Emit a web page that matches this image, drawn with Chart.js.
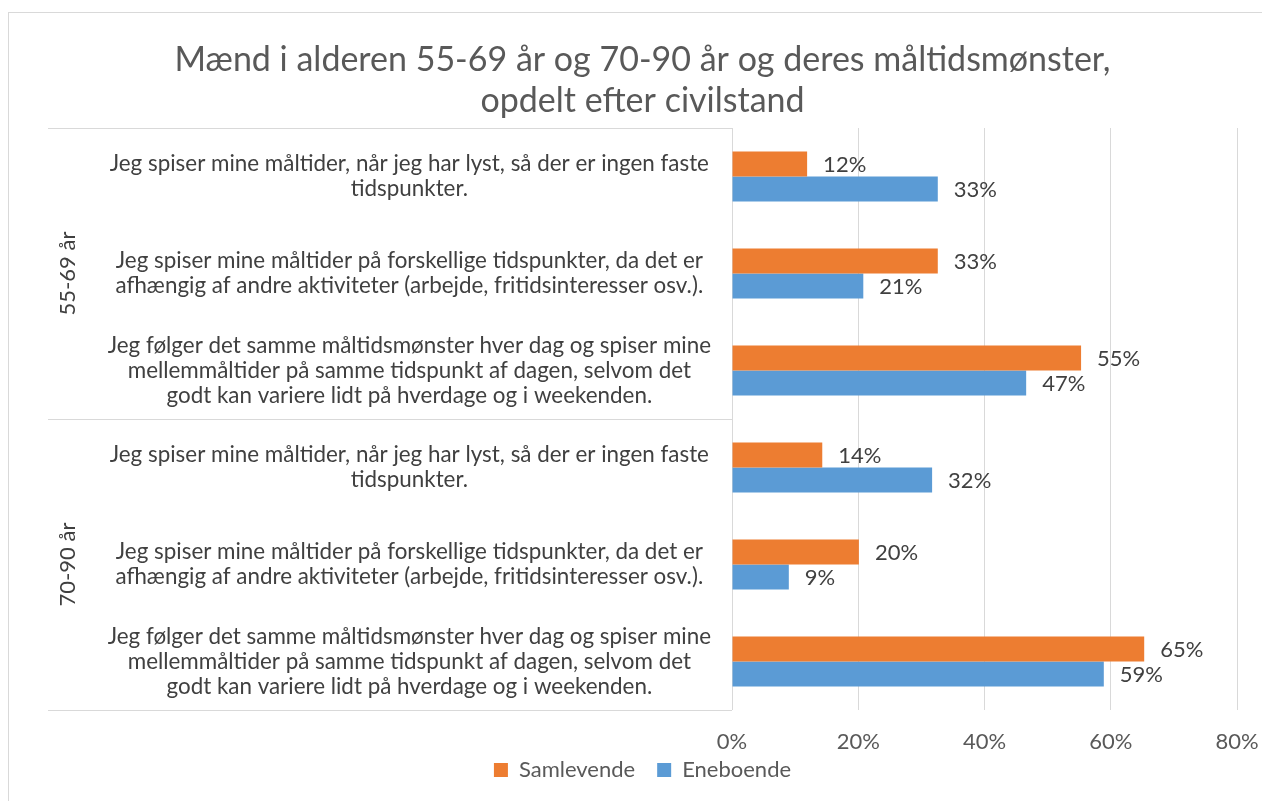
<!DOCTYPE html>
<html>
<head>
<meta charset="utf-8">
<script src="https://cdn.jsdelivr.net/npm/chart.js@4"></script>
<style>
  html, body { margin: 0; padding: 0; background: #fff; overflow: hidden; }
  #wrap { position: relative; width: 1262px; height: 801px; }
  #frame { position: absolute; left: 8px; top: 12px; width: 1300px; height: 850px; border: 1px solid #d9d9d9; box-sizing: border-box; }
  canvas { position: absolute; left: 0; top: 0; }
</style>
</head>
<body>
<div id="wrap">
  <div id="frame"></div>
  <canvas id="chart" width="1262" height="801"></canvas>
</div>
<script>
// data
const groups = ['55-69 år', '70-90 år'];
const questions = [
    ['Jeg spiser mine måltider, når jeg har lyst, så der er ingen faste', 'tidspunkter.'],
    ['Jeg spiser mine måltider på forskellige tidspunkter, da det er', 'afhængig af andre aktiviteter (arbejde, fritidsinteresser osv.).'],
    ['Jeg følger det samme måltidsmønster hver dag og spiser mine', 'mellemmåltider på samme tidspunkt af dagen, selvom det', 'godt kan variere lidt på hverdage og i weekenden.']
];
const categories = [...questions, ...questions];
const samlevende = [11.9, 32.6, 55.3, 14.3, 20.1, 65.3];
const eneboende = [32.6, 20.8, 46.6, 31.7, 9.0, 58.9];
const xTicks = [0, 20, 40, 60, 80];

const FONT = 'Lato, "Liberation Sans", sans-serif';

// bar value labels
const valueLabels = {
    id: 'valueLabels',
    afterDatasetsDraw(chart) {
        const ctx = chart.ctx;
        ctx.save();
        ctx.font = '22px ' + FONT;
        ctx.fillStyle = '#404040';
        ctx.textAlign = 'left';
        ctx.textBaseline = 'middle';
        chart.data.datasets.forEach((ds, i) => {
            chart.getDatasetMeta(i).data.forEach((bar, j) => {
                ctx.fillText(Math.round(ds.data[j]) + '%', bar.x + 16, bar.y + 1);
            });
        });
        ctx.restore();
    }
};

// group separators and rotated group names on the left
const groupAxis = {
    id: 'groupAxis',
    afterDraw(chart) {
        const ctx = chart.ctx;
        const y = chart.scales.y;
        const x0 = y.left;
        const x1 = chart.chartArea.left;
        const per = questions.length;
        const bounds = [y.top];
        for (let g = 1; g < groups.length; g++) {
            bounds.push((y.getPixelForValue(g * per - 1) + y.getPixelForValue(g * per)) / 2);
        }
        bounds.push(y.bottom);
        ctx.save();
        ctx.strokeStyle = '#d9d9d9';
        ctx.lineWidth = 1;
        bounds.forEach(b => {
            ctx.beginPath();
            ctx.moveTo(x0, Math.round(b) + 0.5);
            ctx.lineTo(x1, Math.round(b) + 0.5);
            ctx.stroke();
        });
        ctx.font = '22px ' + FONT;
        ctx.fillStyle = '#404040';
        ctx.textAlign = 'center';
        ctx.textBaseline = 'middle';
        groups.forEach((name, g) => {
            ctx.save();
            ctx.translate(x0 + 20, (bounds[g] + bounds[g + 1]) / 2);
            ctx.rotate(-Math.PI / 2);
            ctx.fillText(name, 0, 0);
            ctx.restore();
        });
        ctx.restore();
    }
};

// pull the legend up closer to the tick labels (its padding also spaces the items)
const legendLift = {
    id: 'legendLift',
    afterLayout(chart) {
        const lg = chart.legend;
        lg.top -= 18;
        lg.bottom -= 18;
    }
};

new Chart(document.getElementById('chart'), {
    type: 'bar',
    data: {
        labels: categories,
        datasets: [{
            label: 'Samlevende',
            data: samlevende,
            backgroundColor: '#ED7D31'
        }, {
            label: 'Eneboende',
            data: eneboende,
            backgroundColor: '#5B9BD5'
        }]
    },
    options: {
        indexAxis: 'y',
        responsive: false,
        animation: false,
        categoryPercentage: 0.515,
        barPercentage: 1,
        layout: { padding: { left: 48, right: 25, top: 12, bottom: -8 } },
        scales: {
            x: {
                min: 0,
                max: 80,
                afterBuildTicks(scale) { scale.ticks = xTicks.map(v => ({ value: v })); },
                afterFit(scale) { scale.paddingRight = 0; scale.height = 45; },
                grid: { color: '#d9d9d9', drawTicks: false },
                border: { display: false },
                ticks: {
                    padding: 19,
                    color: '#595959',
                    font: { family: FONT, size: 22 },
                    callback: v => v + '%'
                }
            },
            y: {
                grid: { display: false, drawTicks: false },
                border: { display: false },
                afterFit(scale) { scale.width = 684; },
                ticks: {
                    crossAlign: 'center',
                    padding: 21,
                    color: '#404040',
                    font: { family: FONT, size: 22.4, lineHeight: 1.116 },
                    autoSkip: false
                }
            }
        },
        plugins: {
            title: {
                display: true,
                text: ['Mænd i alderen 55-69 år og 70-90 år og deres måltidsmønster,', 'opdelt efter civilstand'],
                color: '#595959',
                font: { family: FONT, size: 34, weight: 'normal', lineHeight: 1.2 },
                padding: { top: 27.6, bottom: 6.8 }
            },
            legend: {
                position: 'bottom',
                labels: {
                    color: '#595959',
                    font: { family: FONT, size: 22 },
                    boxWidth: 14,
                    boxHeight: 14,
                    padding: 22
                }
            },
            tooltip: { enabled: false }
        }
    },
    plugins: [valueLabels, groupAxis, legendLift]
});
</script>
</body>
</html>
